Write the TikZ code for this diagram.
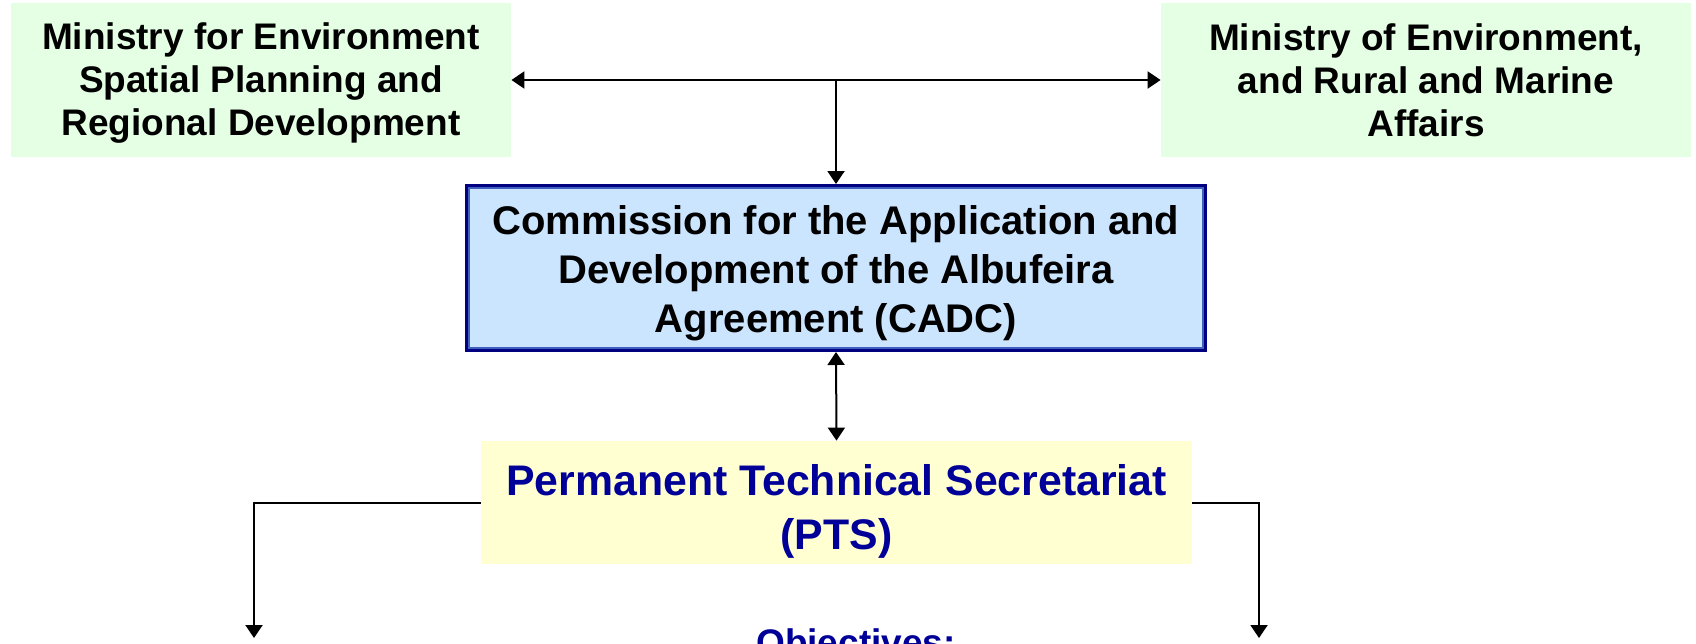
\documentclass[tikz,border=0pt]{standalone}
\usepackage{fontspec}
\setmainfont{Liberation Sans}
\usetikzlibrary{arrows.meta}
\definecolor{ministrygreen}{HTML}{E5FFE5}
\definecolor{cadcblue}{HTML}{CCE5FF}
\definecolor{cadcnavy}{HTML}{000080}
\definecolor{cadcmid}{HTML}{4060C0}
\definecolor{ptsyellow}{HTML}{FFFFD1}
\definecolor{ptsnavy}{HTML}{000099}
\begin{document}
\begin{tikzpicture}[x=0.5pt,y=-0.5pt,
    ministry/.style={fill=ministrygreen, minimum height=77pt, inner sep=0pt, align=center,
      font=\fontsize{18.5}{21.5}\selectfont\bfseries},
    commission/.style={fill=cadcblue, draw=cadcnavy, line width=1.5pt, minimum width=369.5pt,
      minimum height=82.5pt, inner sep=0pt, align=center, font=\fontsize{20}{24.5}\selectfont\bfseries},
    secretariat/.style={fill=ptsyellow, minimum width=355.5pt, minimum height=61.5pt, inner sep=0pt,
      align=center, text=ptsnavy, font=\fontsize{21.4}{27}\selectfont\bfseries},
    link/.style={draw=black, line width=1pt, arrows={-Triangle[length=6.5pt,width=8.5pt]}},
    biglink/.style={link, arrows={Triangle[length=6.5pt,width=8.5pt]-Triangle[length=6.5pt,width=8.5pt]}}]
  \useasboundingbox (0,0) rectangle (1696,643);
  \node[ministry, minimum width=250pt] (mesp) at (261,80)
    {\rule{0pt}{16.6pt}Ministry for Environment\\Spatial Planning and\\Regional Development};
  \node[ministry, minimum width=265pt] (marm) at (1426,80)
    {Ministry of Environment,\\and Rural and Marine\\Affairs};
  \node[commission] (cadc) at (836,268)
    {\rule{0pt}{20pt}Commission for the Application and\\Development of the Albufeira\\Agreement (CADC)};
  \draw[cadcmid, line width=1pt] ([shift={(2pt,-2pt)}]cadc.north west) rectangle ([shift={(-2pt,2pt)}]cadc.south east);
  \node[secretariat] (pts) at (836.5,502.5) {\rule{0pt}{24.5pt}Permanent Technical Secretariat\\(PTS)};
  \node[anchor=base, text=ptsnavy, font=\fontsize{18.5}{22}\selectfont\bfseries] (obj) at (856,655) {Objectives:};
  \coordinate (leftend) at (254,638);
  \coordinate (rightend) at (1259,638);
  \draw[biglink] (mesp.east) -- (marm.west);
  \draw[link] (mesp.east -| cadc.north) -- (cadc.north);
  \draw[biglink] (cadc.south) -- (pts.north);
  \draw[link] (pts.west) -| (leftend);
  \draw[link] (pts.east) -| (rightend);
\end{tikzpicture}
\end{document}
